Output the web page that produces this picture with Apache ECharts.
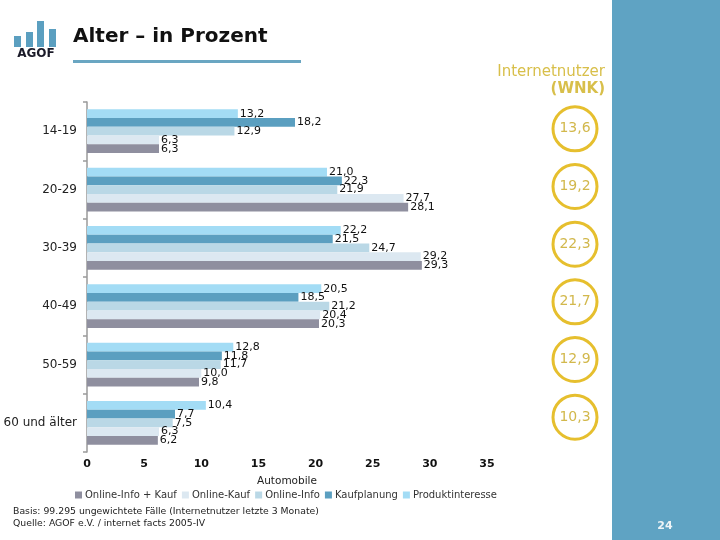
<!DOCTYPE html>
<html><head><meta charset="utf-8">
<script src="https://cdn.jsdelivr.net/npm/echarts@6/dist/echarts.min.js"></script>
<style>html,body{margin:0;padding:0;background:#fff}#c{width:720px;height:540px}</style>
</head><body><div id="c"></div>
<script>
const categories = ['14-19', '20-29', '30-39', '40-49', '50-59', '60 und älter'];
const seriesNames = ['Online-Info + Kauf', 'Online-Kauf', 'Online-Info', 'Kaufplanung', 'Produktinteresse'];
const onlineInfoKauf = [6.3, 28.1, 29.3, 20.3, 9.8, 6.2];
const onlineKauf = [6.3, 27.7, 29.2, 20.4, 10.0, 6.3];
const onlineInfo = [12.9, 21.9, 24.7, 21.2, 11.7, 7.5];
const kaufplanung = [18.2, 22.3, 21.5, 18.5, 11.8, 7.7];
const produktinteresse = [13.2, 21.0, 22.2, 20.5, 12.8, 10.4];
const internetnutzer = [13.6, 19.2, 22.3, 21.7, 12.9, 10.3];
const seriesColors = ['#8f8f9f', '#dce8f1', '#bad8e6', '#5b9fc0', '#a3dcf5'];
const seriesValues = [onlineInfoKauf, onlineKauf, onlineInfo, kaufplanung, produktinteresse];

const fmt = v => v.toFixed(1).replace('.', ',');
const F = '"DejaVu Sans", Verdana, sans-serif';

const chart = echarts.init(document.getElementById('c'), null, {renderer: 'canvas'});

// draw order top→bottom inside each category: Produktinteresse first
const order = [4, 3, 2, 1, 0];
const barSeries = order.map(i => ({
  name: seriesNames[i],
  type: 'bar',
  xAxisIndex: 0, yAxisIndex: 0,
  data: seriesValues[i],
  barGap: '0%',
  barCategoryGap: '25%',
  itemStyle: {color: seriesColors[i]},
  label: {show: true, position: 'right', distance: 2, color: '#111', fontFamily: F, fontSize: 11,
          formatter: p => fmt(p.value)},
  emphasis: {disabled: true}
}));

chart.setOption({
  animation: false,
  textStyle: {fontFamily: F},
  grid: [
    {left: 87, right: 233, top: 102, bottom: 88},
    {left: 555, width: 40, top: 100, height: 346}
  ],
  xAxis: [
    {type: 'value', gridIndex: 0, min: 0, max: 35, interval: 5,
     axisLine: {show: false}, axisTick: {show: false}, splitLine: {show: false},
     axisLabel: {color: '#111', fontWeight: 'bold', fontSize: 11, fontFamily: F, margin: 7},
     name: 'Automobile', nameLocation: 'middle', nameGap: 24,
     nameTextStyle: {color: '#222', fontSize: 10.5, fontFamily: F}},
    {type: 'value', gridIndex: 1, min: -1, max: 1, show: false}
  ],
  yAxis: [
    {type: 'category', gridIndex: 0, data: categories, inverse: true,
     axisLine: {show: true, lineStyle: {color: '#9a9a9a', width: 1.5}},
     axisTick: {show: true, length: 4, lineStyle: {color: '#9a9a9a', width: 1.5}},
     axisLabel: {color: '#222', fontSize: 12, fontFamily: F, margin: 10}},
    {type: 'category', gridIndex: 1, data: categories, inverse: true, show: false}
  ],
  legend: {
    data: seriesNames, left: 70, top: 485, icon: 'rect', itemWidth: 7, itemHeight: 7, itemGap: 5,
    textStyle: {color: '#333', fontSize: 10, fontFamily: F, padding: [0, 0, 0, -2]},
    selectedMode: false
  },
  series: barSeries.concat([{
    name: 'Internetnutzer (WNK)',
    type: 'scatter', xAxisIndex: 1, yAxisIndex: 1,
    data: internetnutzer.map((v, i) => ({value: [0, categories[i]], raw: v})),
    symbol: 'circle', symbolSize: 44,
    itemStyle: {color: '#ffffff', borderColor: '#e6bf2e', borderWidth: 3, opacity: 1},
    label: {show: true, position: 'inside', color: '#d2b84c', fontSize: 14, fontFamily: F,
            formatter: p => fmt(p.data.raw)},
    emphasis: {disabled: true}
  }]),
  graphic: [
    {type: 'rect', shape: {x: 612, y: 0, width: 108, height: 540}, style: {fill: '#5fa3c3'}, silent: true},
    {type: 'text', x: 665, y: 526, style: {text: '24', fill: '#eef4f7', font: 'bold 11px ' + F, textAlign: 'center', textVerticalAlign: 'middle'}},
    {type: 'rect', shape: {x: 14, y: 36, width: 7, height: 11}, style: {fill: '#5b9fc0'}},
    {type: 'rect', shape: {x: 26, y: 32, width: 7, height: 15}, style: {fill: '#5b9fc0'}},
    {type: 'rect', shape: {x: 37, y: 21, width: 7, height: 26}, style: {fill: '#5b9fc0'}},
    {type: 'rect', shape: {x: 49, y: 29, width: 7, height: 18}, style: {fill: '#5b9fc0'}},
    {type: 'text', x: 36, y: 54, style: {text: 'AGOF', fill: '#1a1a28', font: 'bold 12px ' + F, textAlign: 'center', textVerticalAlign: 'middle'}},
    {type: 'text', x: 73, y: 37, style: {text: 'Alter – in Prozent', fill: '#111', font: 'bold 20px ' + F, textVerticalAlign: 'middle'}},
    {type: 'rect', shape: {x: 73, y: 60, width: 228, height: 3}, style: {fill: '#6aa6c2'}},
    {type: 'text', x: 605, y: 72, style: {text: 'Internetnutzer', fill: '#d8bf4a', font: '15px ' + F, textAlign: 'right', textVerticalAlign: 'middle'}},
    {type: 'text', x: 605, y: 89, style: {text: '(WNK)', fill: '#d8bf4a', font: 'bold 15px ' + F, textAlign: 'right', textVerticalAlign: 'middle'}},
    {type: 'text', x: 13, y: 512, style: {text: 'Basis: 99.295 ungewichtete Fälle (Internetnutzer letzte 3 Monate)', fill: '#222', font: '9.3px ' + F, textVerticalAlign: 'middle'}},
    {type: 'text', x: 13, y: 524, style: {text: 'Quelle: AGOF e.V. / internet facts 2005-IV', fill: '#222', font: '9.3px ' + F, textVerticalAlign: 'middle'}}
  ]
});
</script></body></html>
